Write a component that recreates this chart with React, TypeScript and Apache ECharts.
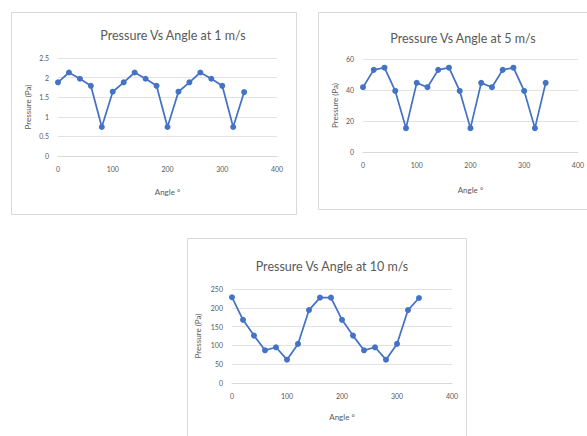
import React, { useEffect, useRef } from "react";
import * as echarts from "echarts";

const angles = [0, 20, 40, 60, 80, 100, 120, 140, 160, 180, 200, 220, 240, 260, 280, 300, 320, 340];
const pressure1 = [1.88, 2.13, 1.97, 1.79, 0.74, 1.64, 1.88, 2.13, 1.97, 1.79, 0.74, 1.64, 1.88, 2.13, 1.97, 1.79, 0.74, 1.63];
const pressure5 = [41.8, 53, 54.4, 39.4, 15.4, 44.6, 41.8, 53, 54.4, 39.4, 15.4, 44.6, 41.8, 53, 54.4, 39.4, 15.4, 44.6];
const pressure10 = [228, 168, 126, 87, 95, 62, 104, 194, 227, 227, 168, 126, 87, 95, 62, 104, 194, 226];
const titles = ["Pressure Vs Angle at 1 m/s", "Pressure Vs Angle at 5 m/s", "Pressure Vs Angle at 10 m/s"];
const yMax = [2.5, 60, 250];
const yStep = [0.5, 20, 50];

const FONT = "Lato";
const TXT = "#595959";
const BLUE = "#4472C4";

export default function App() {
  const ref = useRef<HTMLDivElement>(null);
  useEffect(() => {
    if (!ref.current) return;
    const chart = echarts.init(ref.current, null, { renderer: "svg" });
    const grids = [
      { left: 58, top: 58, width: 219, height: 98 },
      { left: 363, top: 59, width: 220, height: 93 },
      { left: 232, top: 289, width: 220, height: 94 },
    ];
    const titlePos = [
      { left: 168, top: 24 },
      { left: 458, top: 27 },
      { left: 327, top: 255 },
    ];
    const xNameGap = [32, 34, 30];
    const yNameGap = [26, 24, 30];
    const datasets = [pressure1, pressure5, pressure10];
    chart.setOption({
      animation: false,
      backgroundColor: "#ffffff",
      graphic: [
        { type: "rect", shape: { x: 11.5, y: 12.5, width: 285, height: 202 }, style: { fill: "none", stroke: "#d9d9d9", lineWidth: 1 } },
        { type: "rect", shape: { x: 318.5, y: 12.5, width: 275, height: 197 }, style: { fill: "none", stroke: "#d9d9d9", lineWidth: 1 } },
        { type: "rect", shape: { x: 187.5, y: 238.5, width: 279, height: 205 }, style: { fill: "none", stroke: "#d9d9d9", lineWidth: 1 } },
      ],
      title: titles.map((t, i) => ({
        text: t,
        left: titlePos[i].left,
        top: titlePos[i].top,
        textAlign: "center",
        textStyle: { fontFamily: FONT, fontSize: 12.5, fontWeight: "normal", color: TXT },
      })),
      grid: grids,
      xAxis: grids.map((_, i) => ({
        type: "value",
        gridIndex: i,
        min: 0,
        max: 400,
        interval: 100,
        name: "Angle °",
        nameLocation: "middle",
        nameGap: xNameGap[i],
        nameTextStyle: { fontFamily: FONT, fontSize: 8, color: TXT },
        axisLine: { show: true, lineStyle: { color: "#d9d9d9" } },
        axisTick: { show: false },
        splitLine: { show: false },
        axisLabel: { fontFamily: FONT, fontSize: 7, color: TXT, margin: 9 },
      })),
      yAxis: grids.map((_, i) => ({
        type: "value",
        gridIndex: i,
        min: 0,
        max: yMax[i],
        interval: yStep[i],
        name: "Pressure (Pa)",
        nameLocation: "middle",
        nameGap: yNameGap[i],
        nameRotate: 90,
        nameTextStyle: { fontFamily: FONT, fontSize: 8, color: TXT },
        axisLine: { show: false },
        axisTick: { show: false },
        splitLine: { show: true, lineStyle: { color: "#e3e3e3", width: 1 } },
        axisLabel: { fontFamily: FONT, fontSize: 7, color: TXT, margin: 9 },
      })),
      series: datasets.map((vals, i) => ({
        type: "line",
        xAxisIndex: i,
        yAxisIndex: i,
        data: angles.map((a, k) => [a, vals[k]]),
        symbol: "circle",
        symbolSize: 6,
        lineStyle: { color: BLUE, width: 1.75 },
        itemStyle: { color: BLUE },
      })),
    });
    return () => chart.dispose();
  }, []);
  return (
    <div
      ref={ref}
      style={{ position: "fixed", left: 0, top: 0, width: 587, height: 436, background: "#fff" }}
    />
  );
}
